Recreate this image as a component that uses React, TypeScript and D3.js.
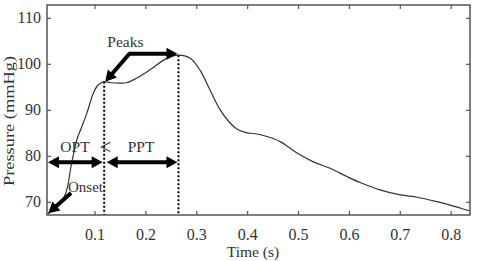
import React from 'react';
import * as d3 from 'd3';

// pulse waveform
const time = [0.006, 0.02, 0.041, 0.054, 0.064, 0.071, 0.084, 0.097, 0.106, 0.116, 0.13, 0.149, 0.162, 0.185, 0.208, 0.241, 0.264, 0.287, 0.306, 0.326, 0.346, 0.365, 0.378, 0.395, 0.415, 0.438, 0.464, 0.497, 0.529, 0.562, 0.595, 0.621, 0.66, 0.7, 0.733, 0.765, 0.798, 0.831, 0.837];
const pressure = [67.4, 68.6, 71.6, 78.5, 83.5, 85.6, 89.4, 93.8, 95.5, 96.2, 96.0, 95.9, 96.0, 97.2, 98.8, 101.3, 102.0, 101.3, 98.8, 94.4, 90.1, 87.3, 86.0, 85.2, 84.9, 84.3, 83.2, 80.7, 78.8, 77.4, 75.6, 74.3, 72.7, 71.6, 71.1, 70.3, 69.4, 68.3, 68.1];

const xTicks = [0.1, 0.2, 0.3, 0.4, 0.5, 0.6, 0.7, 0.8];
const yTicks = [70, 80, 90, 100, 110];

// annotation anchors (data units)
const onset = { t: 0.006, p: 67.4 };
const peak1 = { t: 0.118, p: 96.2 };
const peak2 = { t: 0.264, p: 102.0 };
const peaksJoin = { t: 0.1675, p: 102.3 };
const intervalP = 78.7;

const W = 480;
const H = 261;
const m = { left: 47, right: 470, top: 5, bottom: 215 };
const font = '"Liberation Serif", "Times New Roman", serif';
const ink = '#333';

function arrowHead(x1: number, y1: number, x2: number, y2: number, len = 11, half = 6) {
  const a = Math.atan2(y2 - y1, x2 - x1);
  const bx = x2 - len * Math.cos(a);
  const by = y2 - len * Math.sin(a);
  const nx = -Math.sin(a) * half;
  const ny = Math.cos(a) * half;
  return `${x2},${y2} ${bx + nx},${by + ny} ${bx - nx},${by - ny}`;
}

function Arrow({ x1, y1, x2, y2, both = false }: { x1: number; y1: number; x2: number; y2: number; both?: boolean }) {
  const a = Math.atan2(y2 - y1, x2 - x1);
  const sx = both ? x1 + 8 * Math.cos(a) : x1;
  const sy = both ? y1 + 8 * Math.sin(a) : y1;
  const ex = x2 - 8 * Math.cos(a);
  const ey = y2 - 8 * Math.sin(a);
  return (
    <g>
      <line x1={sx} y1={sy} x2={ex} y2={ey} stroke="#000" strokeWidth={4} />
      <polygon points={arrowHead(x1, y1, x2, y2)} fill="#000" />
      {both && <polygon points={arrowHead(x2, y2, x1, y1)} fill="#000" />}
    </g>
  );
}

export default function App() {
  const x = d3.scaleLinear().domain([0.0056, 0.837]).range([m.left, m.right]);
  const y = d3.scaleLinear().domain([67.24, 112.9]).range([m.bottom, m.top]);

  const pts = time.map((t, i) => [t, pressure[i]] as [number, number]);
  const path = d3
    .line<[number, number]>()
    .x((d) => x(d[0]))
    .y((d) => y(d[1]))
    .curve(d3.curveCatmullRom.alpha(0.5))(pts);

  const iy = y(intervalP);

  return (
    <svg width={W} height={H} style={{ position: 'absolute', left: 0, top: 0, background: '#fff' }} fontFamily={font}>
      {/* curve */}
      <path d={path || ''} fill="none" stroke={ink} strokeWidth={1.2} />

      {/* dotted drop lines at peaks */}
      <line x1={x(peak1.t)} x2={x(peak1.t)} y1={y(peak1.p)} y2={m.bottom} stroke="#000" strokeWidth={2} strokeDasharray="2,2" />
      <line x1={x(peak2.t)} x2={x(peak2.t)} y1={y(peak2.p)} y2={m.bottom} stroke="#000" strokeWidth={2} strokeDasharray="2,2" />

      {/* frame */}
      <rect x={m.left} y={m.top} width={m.right - m.left} height={m.bottom - m.top} fill="none" stroke="#555" strokeWidth={1.5} />
      {xTicks.map((t) => (
        <g key={'x' + t}>
          <line x1={x(t)} x2={x(t)} y1={m.bottom} y2={m.bottom - 4} stroke="#555" strokeWidth={1.2} />
          <line x1={x(t)} x2={x(t)} y1={m.top} y2={m.top + 4} stroke="#555" strokeWidth={1.2} />
          <text x={x(t)} y={240} textAnchor="middle" fontSize={16} fill={ink}>
            {t.toFixed(1)}
          </text>
        </g>
      ))}
      {yTicks.map((v) => (
        <g key={'y' + v}>
          <line x1={m.left} x2={m.left + 4} y1={y(v)} y2={y(v)} stroke="#555" strokeWidth={1.2} />
          <line x1={m.right} x2={m.right - 4} y1={y(v)} y2={y(v)} stroke="#555" strokeWidth={1.2} />
          <text x={41} y={y(v) + 5} textAnchor="end" fontSize={16} fill={ink}>
            {v}
          </text>
        </g>
      ))}

      {/* axis titles */}
      <text x={253} y={257} textAnchor="middle" fontSize={15.5} fill={ink}>
        Time (s)
      </text>
      <text
        transform={`translate(14,${121}) rotate(-90)`}
        textAnchor="middle"
        fontSize={15.5}
        fill={ink}
        textLength={130}
        lengthAdjust="spacingAndGlyphs"
      >
        Pressure (mmHg)
      </text>

      {/* annotations */}
      <text x={x(peaksJoin.t) - 4} y={47} textAnchor="middle" fontSize={15.5} fill={ink}>
        Peaks
      </text>
      <Arrow x1={x(peaksJoin.t) - 1} y1={y(peaksJoin.p)} x2={x(peak2.t) - 1} y2={y(peaksJoin.p)} />
      <Arrow x1={x(peaksJoin.t)} y1={y(peaksJoin.p)} x2={x(peak1.t) + 1} y2={y(peak1.p)} />

      <Arrow x1={m.left + 1} y1={iy} x2={x(peak1.t) - 1.5} y2={iy} both />
      <Arrow x1={x(peak1.t) + 2.5} y1={iy} x2={x(peak2.t) - 1} y2={iy} both />
      <text x={75} y={152} textAnchor="middle" fontSize={15.5} fill={ink}>
        OPT
      </text>
      <text x={105.5} y={154} textAnchor="middle" fontSize={21} fill={ink}>
        {'<'}
      </text>
      <text x={141} y={152} textAnchor="middle" fontSize={15.5} fill={ink}>
        PPT
      </text>

      <text x={85.5} y={191.5} textAnchor="middle" fontSize={15} fill={ink}>
        Onset
      </text>
      <Arrow x1={71} y1={193} x2={x(onset.t) + 1} y2={y(onset.p) - 1} />
    </svg>
  );
}
